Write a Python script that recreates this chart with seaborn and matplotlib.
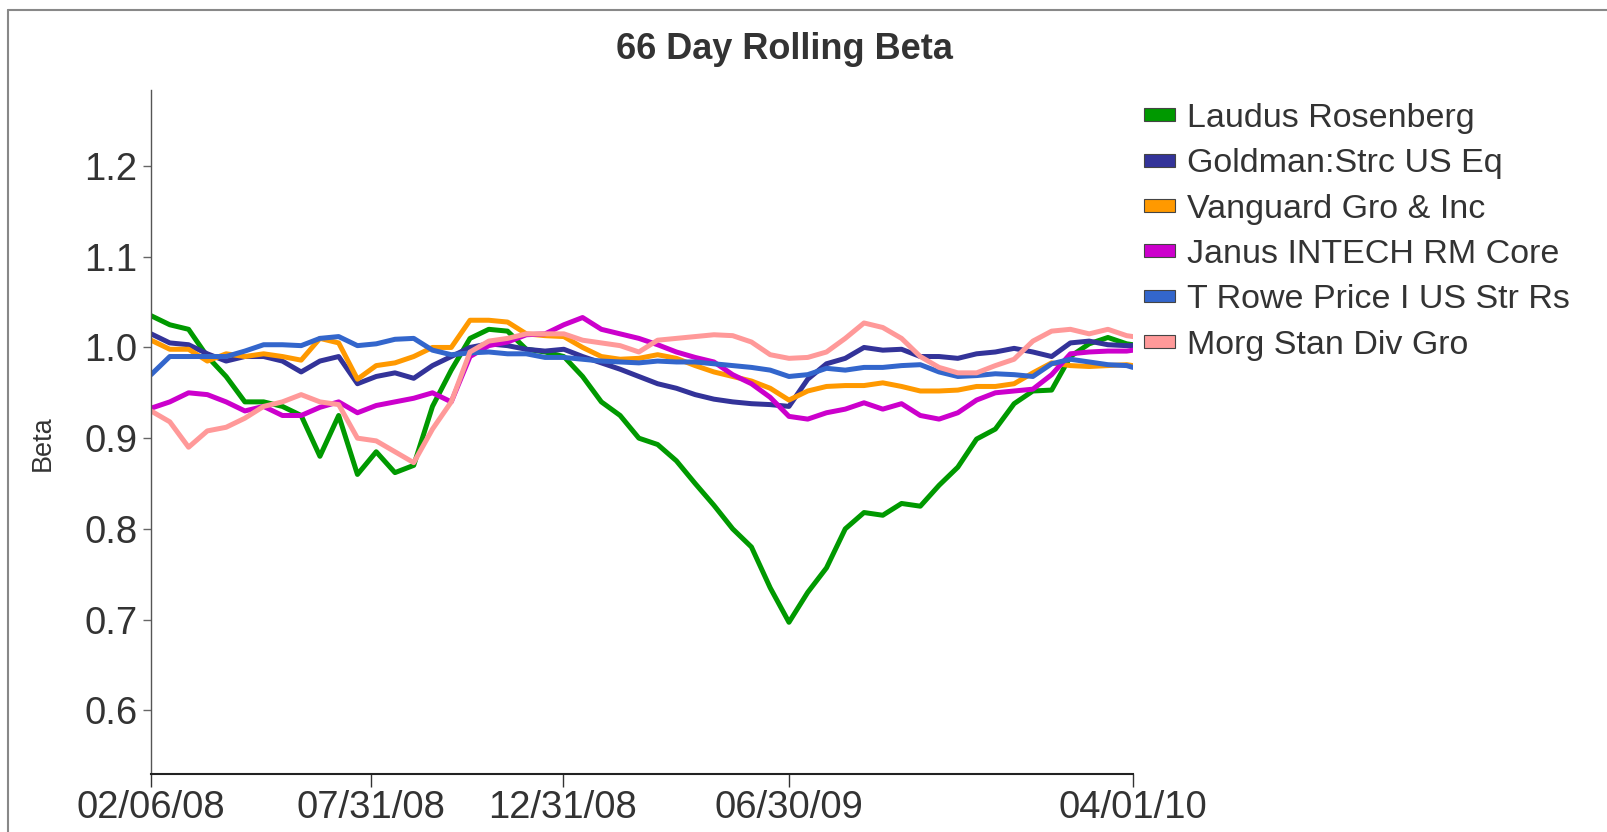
import pandas as pd
import matplotlib
matplotlib.use("Agg")
import matplotlib.pyplot as plt
import seaborn as sns
from matplotlib.patches import Patch
from matplotlib.lines import Line2D

# sample dates (every ~15 days)
dates = ["2008-02-06", "2008-02-21", "2008-03-07", "2008-03-22", "2008-04-06", "2008-04-21",
         "2008-05-06", "2008-05-21", "2008-06-05", "2008-06-20", "2008-07-05", "2008-07-20",
         "2008-08-04", "2008-08-19", "2008-09-03", "2008-09-18", "2008-10-03", "2008-10-18",
         "2008-11-02", "2008-11-17", "2008-12-02", "2008-12-17", "2009-01-01", "2009-01-16",
         "2009-01-31", "2009-02-15", "2009-03-02", "2009-03-17", "2009-04-01", "2009-04-16",
         "2009-05-01", "2009-05-16", "2009-05-31", "2009-06-15", "2009-06-30", "2009-07-15",
         "2009-07-30", "2009-08-14", "2009-08-29", "2009-09-13", "2009-09-28", "2009-10-13",
         "2009-10-28", "2009-11-12", "2009-11-27", "2009-12-12", "2009-12-27", "2010-01-11",
         "2010-01-26", "2010-02-10", "2010-02-25", "2010-03-12", "2010-03-27", "2010-04-01"]

laudus = [1.035, 1.025, 1.020, 0.990, 0.968, 0.940, 0.940, 0.935, 0.925, 0.880, 0.925, 0.860,
          0.885, 0.862, 0.870, 0.935, 0.975, 1.010, 1.020, 1.018, 0.998, 0.995, 0.990, 0.968,
          0.940, 0.925, 0.900, 0.893, 0.875, 0.850, 0.826, 0.800, 0.780, 0.735, 0.697, 0.730,
          0.757, 0.800, 0.818, 0.815, 0.828, 0.825, 0.848, 0.868, 0.899, 0.910, 0.938, 0.952,
          0.953, 0.990, 1.004, 1.011, 1.004, 1.003]
goldman = [1.015, 1.005, 1.003, 0.993, 0.985, 0.990, 0.990, 0.985, 0.973, 0.985, 0.990, 0.960,
           0.968, 0.972, 0.966, 0.980, 0.990, 1.000, 1.004, 1.002, 0.998, 0.996, 0.998, 0.990,
           0.983, 0.976, 0.968, 0.960, 0.955, 0.948, 0.943, 0.940, 0.938, 0.937, 0.935, 0.965,
           0.982, 0.988, 1.000, 0.997, 0.998, 0.990, 0.990, 0.988, 0.993, 0.995, 0.999, 0.995,
           0.990, 1.005, 1.007, 1.003, 1.002, 1.002]
vanguard = [1.008, 0.998, 0.998, 0.985, 0.993, 0.990, 0.993, 0.990, 0.986, 1.010, 1.005, 0.965,
            0.980, 0.983, 0.990, 1.000, 1.000, 1.030, 1.030, 1.028, 1.015, 1.013, 1.012, 1.000,
            0.990, 0.987, 0.988, 0.992, 0.988, 0.980, 0.973, 0.968, 0.963, 0.955, 0.942, 0.952,
            0.957, 0.958, 0.958, 0.961, 0.957, 0.952, 0.952, 0.953, 0.957, 0.957, 0.960, 0.972,
            0.983, 0.980, 0.979, 0.980, 0.981, 0.980]
janus = [0.933, 0.940, 0.950, 0.948, 0.940, 0.930, 0.935, 0.925, 0.925, 0.934, 0.940, 0.928,
         0.936, 0.940, 0.944, 0.950, 0.940, 0.990, 1.002, 1.006, 1.014, 1.015, 1.025, 1.033,
         1.020, 1.015, 1.010, 1.003, 0.995, 0.989, 0.984, 0.970, 0.960, 0.945, 0.924, 0.921,
         0.928, 0.932, 0.939, 0.932, 0.938, 0.925, 0.921, 0.928, 0.942, 0.950, 0.952, 0.954,
         0.970, 0.993, 0.995, 0.996, 0.996, 0.997]
trowe = [0.970, 0.990, 0.990, 0.990, 0.990, 0.996, 1.003, 1.003, 1.002, 1.010, 1.012, 1.002,
         1.004, 1.009, 1.010, 0.997, 0.992, 0.994, 0.995, 0.993, 0.993, 0.989, 0.989, 0.987,
         0.985, 0.984, 0.983, 0.985, 0.984, 0.984, 0.982, 0.980, 0.978, 0.975, 0.968, 0.970,
         0.977, 0.975, 0.978, 0.978, 0.980, 0.981, 0.973, 0.968, 0.969, 0.971, 0.970, 0.968,
         0.982, 0.987, 0.984, 0.981, 0.980, 0.978]
morgstan = [0.930, 0.918, 0.890, 0.908, 0.912, 0.922, 0.935, 0.940, 0.948, 0.940, 0.937, 0.900,
            0.897, 0.885, 0.873, 0.910, 0.940, 0.995, 1.007, 1.010, 1.015, 1.015, 1.015, 1.008,
            1.005, 1.002, 0.995, 1.008, 1.010, 1.012, 1.014, 1.013, 1.006, 0.992, 0.988, 0.989,
            0.995, 1.010, 1.027, 1.022, 1.010, 0.990, 0.978, 0.972, 0.972, 0.980, 0.987, 1.007,
            1.018, 1.020, 1.015, 1.020, 1.013, 1.012]

funds = ["Laudus Rosenberg", "Goldman:Strc US Eq", "Vanguard Gro & Inc",
         "Janus INTECH RM Core", "T Rowe Price I US Str Rs", "Morg Stan Div Gro"]
colors = ["#009900", "#333399", "#FF9900", "#CC00CC", "#3366CC", "#FF9999"]

tick_dates = ["2008-02-06", "2008-07-31", "2008-12-31", "2009-06-30", "2010-04-01"]
tick_labels = ["02/06/08", "07/31/08", "12/31/08", "06/30/09", "04/01/10"]

df = pd.DataFrame({"Date": pd.to_datetime(dates)})
for name, vals in zip(funds, [laudus, goldman, vanguard, janus, trowe, morgstan]):
    df[name] = vals
long_df = df.melt(id_vars="Date", var_name="Fund", value_name="Beta")

sns.set_style("ticks")
plt.rcParams["font.family"] = ["Liberation Sans", "DejaVu Sans"]
txt = "#333333"

fig = plt.figure(figsize=(16.07, 8.32), dpi=100)
ax = fig.add_axes([0.094, 0.070, 0.611, 0.822])

sns.lineplot(data=long_df, x="Date", y="Beta", hue="Fund", hue_order=funds,
             palette=dict(zip(funds, colors)), linewidth=3.6, ax=ax, legend=False)

ax.set_xlim(pd.Timestamp("2008-02-06"), pd.Timestamp("2010-04-01"))
ax.set_ylim(0.53, 1.284)
ax.set_xticks(pd.to_datetime(tick_dates))
ax.set_xticklabels(tick_labels)
ax.set_yticks([0.6, 0.7, 0.8, 0.9, 1.0, 1.1, 1.2])
ax.set_yticklabels(["0.6", "0.7", "0.8", "0.9", "1.0", "1.1", "1.2"])
ax.tick_params(axis="both", labelsize=27.5, colors=txt)
ax.tick_params(axis="y", length=6, width=1, color="#666666", pad=4)
ax.tick_params(axis="x", length=9, width=1, color="#333333", pad=3)
ax.set_xlabel("")
ax.set_ylabel("Beta", fontsize=19.5, color=txt)
ax.yaxis.set_label_coords(-0.097, 0.484)

sns.despine(ax=ax)
ax.spines["left"].set_color("#555555")
ax.spines["left"].set_linewidth(1.0)
ax.spines["bottom"].set_color("#222222")
ax.spines["bottom"].set_linewidth(1.5)

fig.text(0.488, 0.941, "66 Day Rolling Beta", ha="center", va="center",
         fontsize=26, fontweight="bold", color=txt)

handles = [Patch(facecolor=c, edgecolor="#444444", linewidth=0.8) for c in colors]
fig.legend(handles, funds, loc="upper left", bbox_to_anchor=(0.712, 0.876),
           frameon=False, fontsize=24.5, labelcolor=txt, handlelength=0.9,
           handleheight=0.2, handletextpad=0.35, labelspacing=0.42, borderpad=0,
           borderaxespad=0)

# outer frame (top and left edges visible)
fig.add_artist(Line2D([0.005, 1.0], [0.988, 0.988], transform=fig.transFigure,
                      color="#888888", linewidth=1.5))
fig.add_artist(Line2D([0.005, 0.005], [0.0, 0.988], transform=fig.transFigure,
                      color="#888888", linewidth=1.5))

fig.savefig("out.png", dpi=100)
